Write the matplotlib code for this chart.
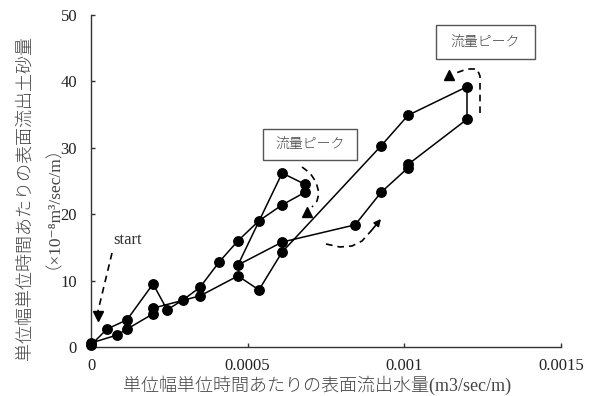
import matplotlib
matplotlib.use("Agg")
import matplotlib.pyplot as plt
from matplotlib.patches import Rectangle

plt.rcParams['font.family'] = ['Liberation Serif', 'Noto Sans CJK JP', 'DejaVu Serif']

# Unit-width surface runoff (m3/sec/m), in time order
runoff = [0.0, 0.000051, 0.000115, 0.000198, 0.000243, 0.000294, 0.000348,
          0.000409, 0.000469, 0.000536, 0.000610, 0.000683, 0.000683, 0.000610,
          0.000469, 0.000610, 0.000843, 0.000926, 0.001012, 0.001012, 0.001200,
          0.001200, 0.001012, 0.000926, 0.000610, 0.000536, 0.000469, 0.000348,
          0.000198, 0.000198, 0.000115, 0.000083, 0.0]
# Unit-width surface sediment discharge (x10^-8 m3/sec/m)
sediment = [0.3, 2.7, 4.1, 9.5, 5.6, 7.1, 9.0,
            12.8, 16.0, 19.0, 21.4, 23.3, 24.5, 26.2,
            12.35, 15.8, 18.4, 23.3, 27.0, 27.5, 34.3,
            39.2, 34.9, 30.3, 14.3, 8.6, 10.7, 7.7,
            5.85, 5.0, 2.7, 1.8, 0.6]

x_ticks = [0, 0.0005, 0.001, 0.0015]
x_tick_labels = ["0", "0.0005", "0.001", "0.0015"]
y_ticks = [0, 10, 20, 30, 40, 50]

W, H = 594, 396
fig = plt.figure(figsize=(W / 100, H / 100), dpi=100)
ax = fig.add_axes([91 / W, 1 - 347 / H, 470 / W, 332 / H])

ax.plot(runoff, sediment, color='black', lw=1.1, marker='o', ms=6.8,
        mfc='black', mec='black', clip_on=False, zorder=3)

ax.set_xlim(0, 0.0015)
ax.set_ylim(0, 50)
ax.set_xticks(x_ticks)
ax.set_xticklabels(x_tick_labels)
ax.set_yticks(y_ticks)
for s in ['top', 'right']:
    ax.spines[s].set_visible(False)
for s in ['left', 'bottom']:
    ax.spines[s].set_color('#333333')
    ax.spines[s].set_linewidth(1.0)
ax.tick_params(axis='both', direction='in', length=3, width=1.0,
               color='#333333', labelsize=12, labelcolor='#222222')
ax.tick_params(axis='y', pad=10)
ax.tick_params(axis='x', pad=8)

jp = dict(color='#444444', fontweight='light')

# axis titles
fig.text(317 / W, 1 - 385 / H, "単位幅単位時間あたりの表面流出水量(m3/sec/m)",
         ha='center', va='center', fontsize=13, **jp)
fig.text(25 / W, 1 - 198 / H, "単位幅単位時間あたりの表面流出土砂量",
         ha='center', va='center', rotation=90, fontsize=13, **jp)
fig.text(45 / W, 1 - 198 / H, "（×10⁻⁸m³/sec/m）",
         ha='center', va='center', rotation=90, fontsize=12.5, **jp)

# "流量ピーク" callout boxes (figure pixels: x0, y0, x1, y1)
for (x0, y0, x1, y1) in [(263, 129, 357, 160), (436, 25, 535, 59)]:
    fig.add_artist(Rectangle((x0 / W, 1 - y1 / H), (x1 - x0) / W, (y1 - y0) / H,
                             transform=fig.transFigure, fill=True, fc='white',
                             ec='#555555', lw=1.0, zorder=5))
    fig.text((x0 + x1) / 2 / W, 1 - (y0 + y1) / 2 / H, "流量ピーク",
             ha='center', va='center', fontsize=10, zorder=6, **jp)

# "start" label
fig.text(128 / W, 1 - 240 / H, "start", ha='center', va='center',
         fontsize=12, color='#333333')


def px(pts):
    xs = [(p[0] - 91) / 470 * 0.0015 for p in pts]
    ys = [(347 - p[1]) / 332 * 50 for p in pts]
    return xs, ys


dash = dict(color='black', lw=1.2, ls=(0, (4, 3)), clip_on=False, zorder=4)
tri = dict(color='black', ms=7, clip_on=False, zorder=4, ls='none')

# start arrow
xs, ys = px([(112, 253), (98, 311)])
ax.plot(xs, ys, **dash)
xs, ys = px([(97.5, 316)])
ax.plot(xs, ys, marker='v', **tri)

# first peak loop arrow
xs, ys = px([(302, 167), (310, 173), (316, 182), (319, 193), (317, 201), (312, 207)])
ax.plot(xs, ys, **dash)
xs, ys = px([(307, 212)])
ax.plot(xs, ys, marker='^', **tri)

# second peak loop arrow
xs, ys = px([(480, 113), (480, 90), (480, 76), (477, 69), (467, 69), (456, 73)])
ax.plot(xs, ys, **dash)
xs, ys = px([(449, 75)])
ax.plot(xs, ys, marker='^', **tri)

# rising-limb arrow of second event
xs, ys = px([(326, 244), (340, 247), (352, 246), (362, 241), (371, 231)])
ax.plot(xs, ys, **dash)
(ax0, ay0), (ax1, ay1) = [list(zip(*px([p])))[0] for p in [(371, 231), (381, 219)]]
ax.annotate("", xy=(ax1, ay1), xytext=(ax0, ay0),
            arrowprops=dict(arrowstyle='-|>', color='black', lw=1.2,
                            mutation_scale=10, shrinkA=0, shrinkB=0))

fig.savefig("out.png", dpi=100)
